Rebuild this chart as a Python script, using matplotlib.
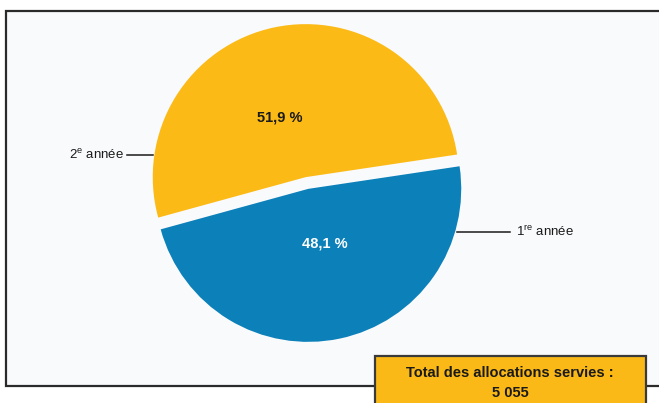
import matplotlib.pyplot as plt
from matplotlib.patches import Rectangle

plt.rcParams["font.family"] = ["Liberation Sans Narrow", "Liberation Sans", "DejaVu Sans"]

# data
categories = ["2e année", "1re année"]
shares = [51.9, 48.1]
share_labels = ["51,9 %", "48,1 %"]
total_label = "Total des allocations servies :"
total_value = "5 055"
title = "SELON L'ANNÉE DE SERVICE"

colors = ["#FBBA16", "#0C80B9"]

W, H = 659, 403
fig = plt.figure(figsize=(W / 100, H / 100), dpi=100)
fig.patch.set_facecolor("#FFFFFF")
ax = fig.add_axes([0, 0, 1, 1])


def Y(y_img):
	return H - y_img


# outer frame (extends past right edge)
ax.add_patch(Rectangle((6, Y(386)), 700, 375, facecolor="#F9FAFC", edgecolor="#2A2A2A", linewidth=1.6, zorder=0))

# explode is in data units here (pixels)
wedges, _ = ax.pie(
	shares,
	colors=colors,
	startangle=8.5,
	counterclock=True,
	center=(307, Y(183)),
	radius=153,
	explode=[6, 6],
	frame=True,
	wedgeprops={"linewidth": 0},
)
ax.set_xlim(0, W)
ax.set_ylim(0, H)
ax.set_aspect("auto")
ax.axis("off")

ax.text(280, Y(118), share_labels[0], ha="center", va="center", fontsize=10.5, fontweight="bold", color="#1A1A1A")
ax.text(325, Y(244), share_labels[1], ha="center", va="center", fontsize=10.5, fontweight="bold", color="white")

# leader lines and category labels
ax.plot([127, 153], [Y(155), Y(155)], color="#1A1A1A", linewidth=1.1)
ax.text(124, Y(155), "2$^{\\mathregular{e}}$ année", ha="right", va="center", fontsize=9.5, color="#1A1A1A")
ax.plot([457, 510], [Y(232), Y(232)], color="#1A1A1A", linewidth=1.1)
ax.text(516, Y(232), "1$^{\\mathregular{re}}$ année", ha="left", va="center", fontsize=9.5, color="#1A1A1A")

# total box
ax.add_patch(Rectangle((375, -10), 271, Y(356) + 10, facecolor="#FBB917", edgecolor="#3A3A3A", linewidth=1.6, zorder=3))
ax.text(510, Y(373), total_label, ha="center", va="center", fontsize=10.5, fontweight="bold", color="#1A1A1A", zorder=4)
ax.text(510, Y(393), total_value, ha="center", va="center", fontsize=10.5, fontweight="bold", color="#1A1A1A", zorder=4)

# title, mostly cut off by the top edge
ax.text(334, Y(3), title, ha="center", va="bottom", fontsize=14, fontweight="bold", color="#1E96DC")

fig.savefig("out.png", dpi=100)
